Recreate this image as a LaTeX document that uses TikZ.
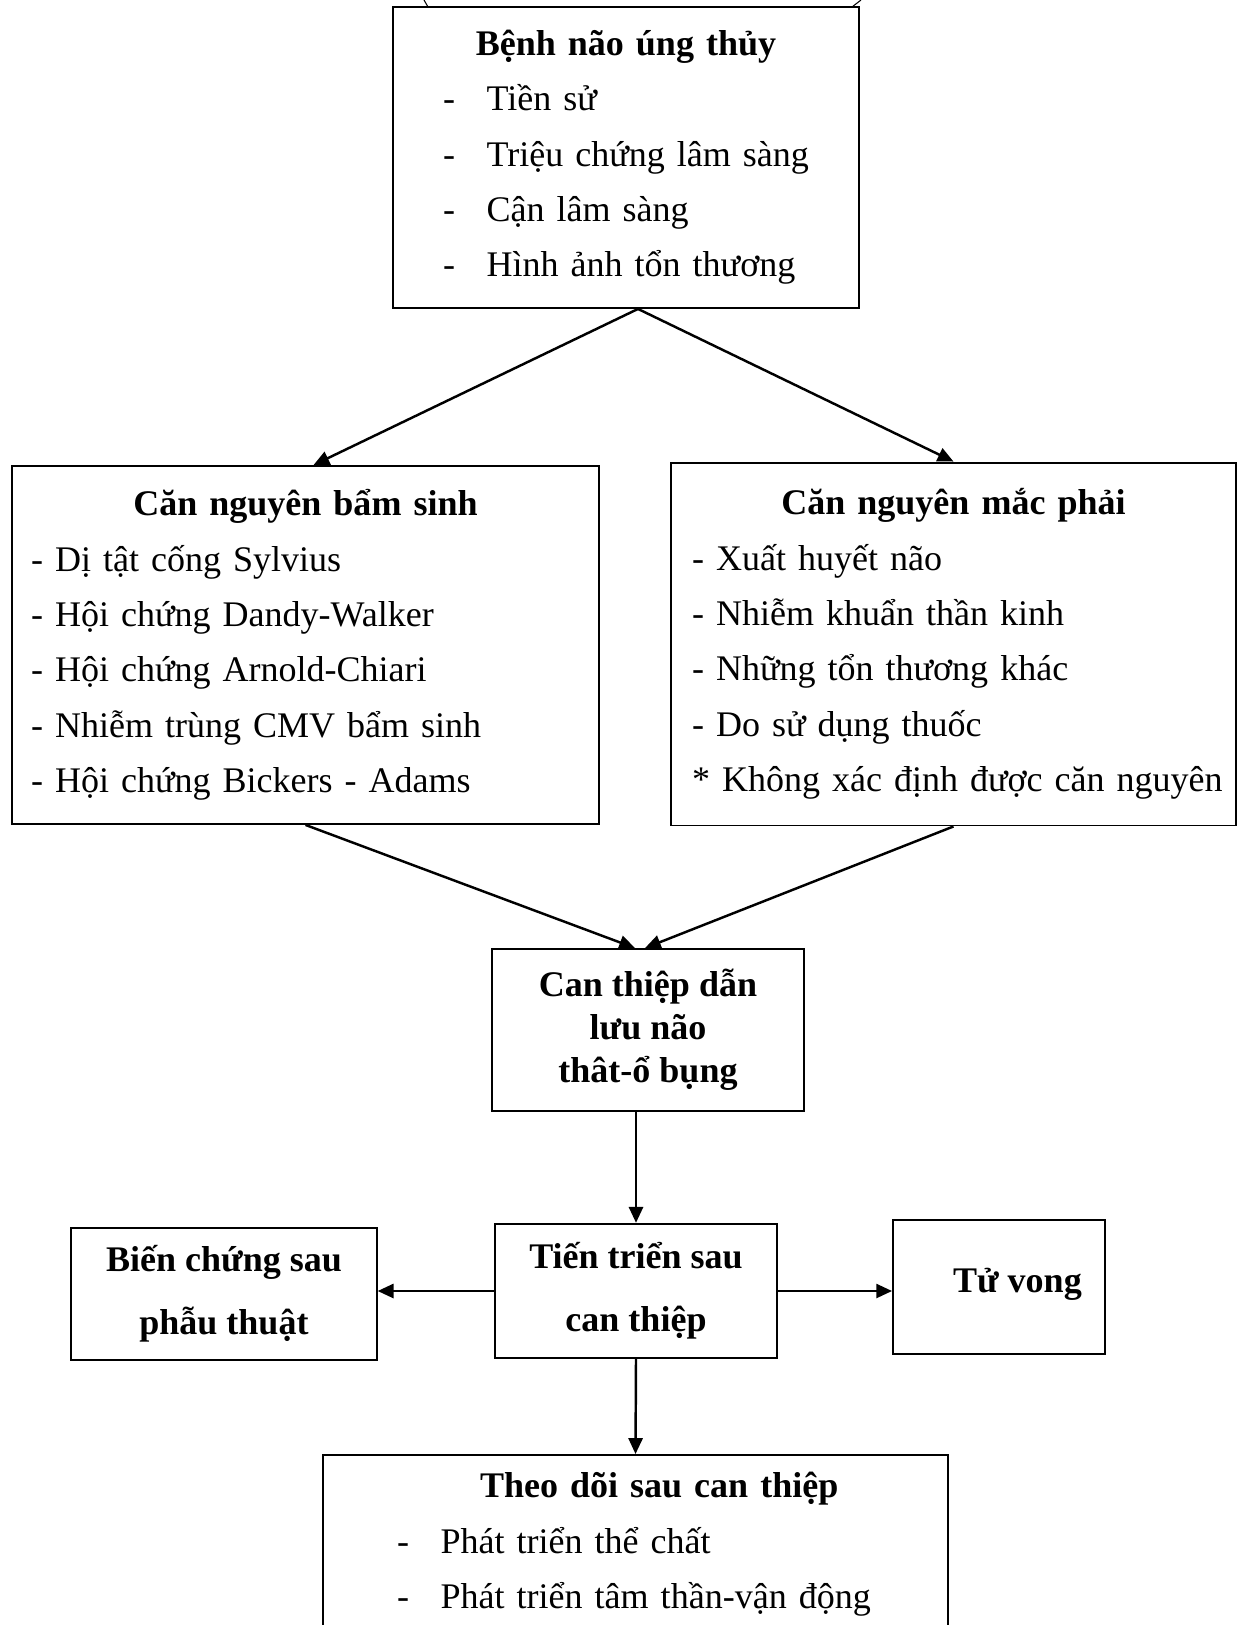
\documentclass[tikz,border=0pt]{standalone}
\usepackage{fontspec}
\setmainfont{Liberation Serif}
\usetikzlibrary{arrows.meta,calc}

\begin{document}
\begin{tikzpicture}[x=0.02cm,y=-0.02cm,line width=1.1pt]
    % `listbox' is used for the boxes with a heading and a list.
    % `smallbox' is used for the short bold boxes.
    % `flow' is used for the arrows between boxes.
    \tikzstyle{listbox} = [draw,align=left,font=\fontsize{20.5}{31.5}\selectfont]
    \tikzstyle{smallbox} = [draw,align=center,font=\bfseries\fontsize{20.5}{24.5}\selectfont]
    \tikzstyle{flow} = [line width=1.4pt,-{Triangle[length=9pt,width=8pt]}]
    \useasboundingbox (0,0) rectangle (1238,1625);
    \clip (0,0) rectangle (1238,1625);
    %
    \draw[line width=0.6pt] (428,7) .. controls (426,4) .. (424,0)
                            (852,7) .. controls (857,4) .. (861,0);
    \node[listbox,text width=7.32cm,inner xsep=1cm,minimum height=6.02cm] (benh) at (626,157.5) {
      \makebox[7.32cm][c]{\textbf{Bệnh não úng thủy}}\\
      -\hspace{18pt}Tiền sử\\
      -\hspace{18pt}Triệu chứng lâm sàng\\
      -\hspace{18pt}Cận lâm sàng\\
      -\hspace{18pt}Hình ảnh tổn thương};
    \node[listbox,text width=10.98cm,inner xsep=0.38cm,minimum height=7.16cm] (bamsinh) at (305.5,645) {
      \makebox[10.98cm][c]{\textbf{Căn nguyên bẩm sinh}}\\
      - Dị tật cống Sylvius\\
      - Hội chứng Dandy-Walker\\
      - Hội chứng Arnold-Chiari\\
      - Nhiễm trùng CMV bẩm sinh\\
      - Hội chứng Bickers - Adams};
    \node[listbox,text width=10.46cm,inner xsep=0.42cm,minimum height=7.26cm] (macphai) at (953.5,644) {
      \makebox[10.46cm][c]{\textbf{Căn nguyên mắc phải}}\\
      - Xuất huyết não\\
      - Nhiễm khuẩn thần kinh\\
      - Những tổn thương khác\\
      - Do sử dụng thuốc\\
      {*}~Không~xác~định~được~căn~nguyên};
    \node[smallbox,minimum width=6.24cm,minimum height=3.24cm] (canthiep) at (648,1030)
      {Can thiệp dẫn\\lưu não\\thât-ổ bụng};
    \node[smallbox,font=\bfseries\fontsize{20.5}{36}\selectfont,minimum width=5.64cm,minimum height=2.69cm] (tientrien) at (636,1291)
      {Tiến triển sau\\can thiệp};
    \node[smallbox,font=\bfseries\fontsize{20.5}{36}\selectfont,minimum width=6.11cm,minimum height=2.64cm] (bienchung) at (224,1294)
      {Biến chứng sau\\phẫu thuật};
    \node[smallbox,minimum width=4.24cm,minimum height=2.68cm] (tuvong) at (999,1287)
      {\hspace*{21pt}\raisebox{8pt}{Tử vong}};
    \node[listbox,anchor=north,text width=9.54cm,inner xsep=1.48cm,inner ysep=10pt] (theodoi) at (635.5,1454) {
      \makebox[9.54cm][c]{\hspace{27pt}\textbf{Theo dõi sau can thiệp}}\\
      -\hspace{18pt}Phát triển thể chất\\
      -\hspace{18pt}Phát triển tâm thần-vận động\rule[-80pt]{0pt}{0pt}};
    %
    \draw[flow] ($(benh.south)+(12,0)$) -- ($(bamsinh.north)+(8,0)$);
    \draw[flow] ($(benh.south)+(12,0)$) -- (macphai.north);
    \draw[flow] (bamsinh.south) -- ($(canthiep.north)+(-13,0)$);
    \draw[flow] (macphai.south) -- ($(canthiep.north)+(-3,0)$);
    \draw[flow] (canthiep.south -| tientrien.north) -- (tientrien.north);
    \draw[flow] (tientrien.south) -- (theodoi.north);
    \draw[flow] (tientrien.west) -- (tientrien.west -| bienchung.east);
    \draw[flow] (tientrien.east) -- (tientrien.east -| tuvong.west);
\end{tikzpicture}
\end{document}
